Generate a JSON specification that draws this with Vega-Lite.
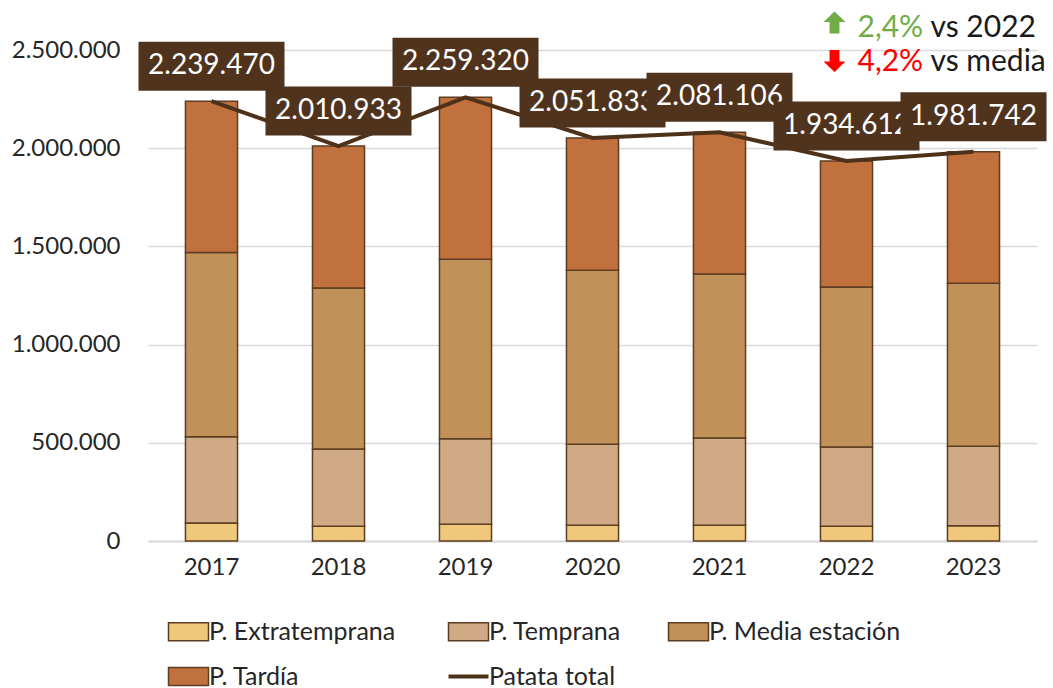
{
  "$schema": "https://vega.github.io/schema/vega-lite/v6.json",
  "width": 889,
  "height": 491,
  "autosize": {"type": "none"},
  "padding": {"left": 148, "top": 50, "right": 16, "bottom": 147},
  "background": "white",
  "config": {
    "locale": {"number": {"decimal": ",", "thousands": ".", "grouping": [3], "currency": ["", " €"]}},
    "font": "Lato",
    "view": {"stroke": null}
  },
  "datasets": {
    "parts": [
      {"year": "2017", "cat": "P. Extratemprana", "idx": 1, "value": 92000},
      {"year": "2017", "cat": "P. Temprana", "idx": 2, "value": 439000},
      {"year": "2017", "cat": "P. Media estación", "idx": 3, "value": 938000},
      {"year": "2017", "cat": "P. Tardía", "idx": 4, "value": 770470},
      {"year": "2018", "cat": "P. Extratemprana", "idx": 1, "value": 75000},
      {"year": "2018", "cat": "P. Temprana", "idx": 2, "value": 394000},
      {"year": "2018", "cat": "P. Media estación", "idx": 3, "value": 819000},
      {"year": "2018", "cat": "P. Tardía", "idx": 4, "value": 722933},
      {"year": "2019", "cat": "P. Extratemprana", "idx": 1, "value": 85000},
      {"year": "2019", "cat": "P. Temprana", "idx": 2, "value": 435000},
      {"year": "2019", "cat": "P. Media estación", "idx": 3, "value": 915000},
      {"year": "2019", "cat": "P. Tardía", "idx": 4, "value": 824320},
      {"year": "2020", "cat": "P. Extratemprana", "idx": 1, "value": 80000},
      {"year": "2020", "cat": "P. Temprana", "idx": 2, "value": 413000},
      {"year": "2020", "cat": "P. Media estación", "idx": 3, "value": 885000},
      {"year": "2020", "cat": "P. Tardía", "idx": 4, "value": 673833},
      {"year": "2021", "cat": "P. Extratemprana", "idx": 1, "value": 80000},
      {"year": "2021", "cat": "P. Temprana", "idx": 2, "value": 445000},
      {"year": "2021", "cat": "P. Media estación", "idx": 3, "value": 834000},
      {"year": "2021", "cat": "P. Tardía", "idx": 4, "value": 722106},
      {"year": "2022", "cat": "P. Extratemprana", "idx": 1, "value": 75000},
      {"year": "2022", "cat": "P. Temprana", "idx": 2, "value": 403000},
      {"year": "2022", "cat": "P. Media estación", "idx": 3, "value": 815000},
      {"year": "2022", "cat": "P. Tardía", "idx": 4, "value": 641612},
      {"year": "2023", "cat": "P. Extratemprana", "idx": 1, "value": 78000},
      {"year": "2023", "cat": "P. Temprana", "idx": 2, "value": 405000},
      {"year": "2023", "cat": "P. Media estación", "idx": 3, "value": 829000},
      {"year": "2023", "cat": "P. Tardía", "idx": 4, "value": 669742}
    ],
    "totals": [
      {"year": "2017", "total": 2239470},
      {"year": "2018", "total": 2010933},
      {"year": "2019", "total": 2259320},
      {"year": "2020", "total": 2051833},
      {"year": "2021", "total": 2081106},
      {"year": "2022", "total": 1934612},
      {"year": "2023", "total": 1981742}
    ],
    "notes": [
      {"row": "a", "ya": 2640000, "yt": 2612000, "pct": "2,4%", "rest": "vs 2022", "c": "#70AD47", "dir": "up"},
      {"row": "b", "ya": 2444000, "yt": 2440000, "pct": "4,2%", "rest": "vs media", "c": "#FF0000", "dir": "down"}
    ]
  },
  "encoding": {
    "x": {
      "field": "year", "type": "ordinal",
      "scale": {"paddingInner": 0.59, "paddingOuter": 0.295},
      "axis": {"title": null, "labelAngle": 0, "labelFontSize": 24, "labelColor": "#262626", "ticks": false, "domainColor": "#D9D9D9", "domainWidth": 2, "labelPadding": 14}
    }
  },
  "layer": [
    {
      "data": {"name": "parts"},
      "mark": {"type": "bar", "stroke": "#5C3D21", "strokeWidth": 1.5},
      "encoding": {
        "y": {
          "field": "value", "type": "quantitative", "stack": "zero",
          "scale": {"domain": [0, 2500000], "nice": false, "zero": true},
          "axis": {"title": null, "values": [0, 500000, 1000000, 1500000, 2000000, 2500000], "format": ",d", "grid": true, "gridColor": "#D9D9D9", "gridWidth": 1.5, "domain": false, "ticks": false, "labelFontSize": 24, "labelPadding": 28, "labelColor": "#262626"}
        },
        "color": {
          "field": "cat", "type": "nominal",
          "scale": {
            "domain": ["P. Extratemprana", "P. Temprana", "P. Media estación", "P. Tardía", "Patata total"],
            "range": ["#F0C87C", "#CFAA85", "#C0925A", "#C0713D", "#4E3119"]
          },
          "legend": {
            "title": null, "orient": "bottom", "columns": 3, "labelFontSize": 25, "labelColor": "#262626", "labelLimit": 400,
            "symbolSize": 1600, "symbolType": "M-1,-0.45H1V0.45H-1Z", "symbolStrokeWidth": 1.5, "symbolStrokeColor": "#5C3D21",
            "rowPadding": 19, "columnPadding": 44, "labelOffset": 8, "offset": 12, "padding": 28,
            "encode": {
              "symbols": {
                "update": {
                  "shape": {"signal": "datum.value === 'Patata total' ? 'stroke' : 'M-1,-0.45H1V0.45H-1Z'"},
                  "fill": {"signal": "datum.value === 'Patata total' ? 'transparent' : scale('color', datum.value)"},
                  "stroke": {"signal": "datum.value === 'Patata total' ? '#4E3119' : '#5C3D21'"},
                  "strokeWidth": {"signal": "datum.value === 'Patata total' ? 4 : 1.5"}
                }
              }
            }
          }
        },
        "order": {"field": "idx", "type": "quantitative"}
      }
    },
    {
      "data": {"name": "totals"},
      "mark": {"type": "line", "strokeWidth": 4, "color": "#4E3119"},
      "encoding": {
        "y": {"field": "total", "type": "quantitative", "scale": {"domain": [0, 2500000], "nice": false, "zero": true}}
      }
    },
    {"data": {"name": "totals"}, "transform": [{"filter": "datum.year == '2017'"}], "encoding": {"y": {"field": "total", "type": "quantitative"}}, "layer": [
      {"mark": {"type": "point", "shape": "M-1,-0.336H1V0.336H-1Z", "size": 21316, "filled": true, "color": "#4F331D", "opacity": 1, "strokeWidth": 0, "yOffset": -35}},
      {"mark": {"type": "text", "fontSize": 28, "color": "white", "baseline": "middle", "yOffset": -35}, "encoding": {"text": {"field": "total", "type": "quantitative", "format": ",d"}}}
    ]},
    {"data": {"name": "totals"}, "transform": [{"filter": "datum.year == '2018'"}], "encoding": {"y": {"field": "total", "type": "quantitative"}}, "layer": [
      {"mark": {"type": "point", "shape": "M-1,-0.336H1V0.336H-1Z", "size": 21316, "filled": true, "color": "#4F331D", "opacity": 1, "strokeWidth": 0, "yOffset": -35}},
      {"mark": {"type": "text", "fontSize": 28, "color": "white", "baseline": "middle", "yOffset": -35}, "encoding": {"text": {"field": "total", "type": "quantitative", "format": ",d"}}}
    ]},
    {"data": {"name": "totals"}, "transform": [{"filter": "datum.year == '2019'"}], "encoding": {"y": {"field": "total", "type": "quantitative"}}, "layer": [
      {"mark": {"type": "point", "shape": "M-1,-0.336H1V0.336H-1Z", "size": 21316, "filled": true, "color": "#4F331D", "opacity": 1, "strokeWidth": 0, "yOffset": -35}},
      {"mark": {"type": "text", "fontSize": 28, "color": "white", "baseline": "middle", "yOffset": -35}, "encoding": {"text": {"field": "total", "type": "quantitative", "format": ",d"}}}
    ]},
    {"data": {"name": "totals"}, "transform": [{"filter": "datum.year == '2020'"}], "encoding": {"y": {"field": "total", "type": "quantitative"}}, "layer": [
      {"mark": {"type": "point", "shape": "M-1,-0.336H1V0.336H-1Z", "size": 21316, "filled": true, "color": "#4F331D", "opacity": 1, "strokeWidth": 0, "yOffset": -35}},
      {"mark": {"type": "text", "fontSize": 28, "color": "white", "baseline": "middle", "yOffset": -35}, "encoding": {"text": {"field": "total", "type": "quantitative", "format": ",d"}}}
    ]},
    {"data": {"name": "totals"}, "transform": [{"filter": "datum.year == '2021'"}], "encoding": {"y": {"field": "total", "type": "quantitative"}}, "layer": [
      {"mark": {"type": "point", "shape": "M-1,-0.336H1V0.336H-1Z", "size": 21316, "filled": true, "color": "#4F331D", "opacity": 1, "strokeWidth": 0, "yOffset": -35}},
      {"mark": {"type": "text", "fontSize": 28, "color": "white", "baseline": "middle", "yOffset": -35}, "encoding": {"text": {"field": "total", "type": "quantitative", "format": ",d"}}}
    ]},
    {"data": {"name": "totals"}, "transform": [{"filter": "datum.year == '2022'"}], "encoding": {"y": {"field": "total", "type": "quantitative"}}, "layer": [
      {"mark": {"type": "point", "shape": "M-1,-0.336H1V0.336H-1Z", "size": 21316, "filled": true, "color": "#4F331D", "opacity": 1, "strokeWidth": 0, "yOffset": -35}},
      {"mark": {"type": "text", "fontSize": 28, "color": "white", "baseline": "middle", "yOffset": -35}, "encoding": {"text": {"field": "total", "type": "quantitative", "format": ",d"}}}
    ]},
    {"data": {"name": "totals"}, "transform": [{"filter": "datum.year == '2023'"}], "encoding": {"y": {"field": "total", "type": "quantitative"}}, "layer": [
      {"mark": {"type": "point", "shape": "M-1,-0.336H1V0.336H-1Z", "size": 21316, "filled": true, "color": "#4F331D", "opacity": 1, "strokeWidth": 0, "yOffset": -35}},
      {"mark": {"type": "text", "fontSize": 28, "color": "white", "baseline": "middle", "yOffset": -35}, "encoding": {"text": {"field": "total", "type": "quantitative", "format": ",d"}}}
    ]},
    {
      "data": {"name": "notes"},
      "transform": [{"filter": "datum.dir == 'up'"}],
      "mark": {"type": "point", "shape": "M0,-1L1,-0.05L0.45,-0.05L0.45,1L-0.45,1L-0.45,-0.05L-1,-0.05Z", "size": 484, "filled": true, "opacity": 1, "strokeWidth": 0, "color": "#70AD47", "xOffset": -12},
      "encoding": {"x": {"datum": "2022", "type": "ordinal"}, "y": {"field": "ya", "type": "quantitative", "scale": {"domain": [0, 2500000], "nice": false, "zero": true}}}
    },
    {
      "data": {"name": "notes"},
      "transform": [{"filter": "datum.dir == 'down'"}],
      "mark": {"type": "point", "shape": "M0,1L1,0.05L0.45,0.05L0.45,-1L-0.45,-1L-0.45,0.05L-1,0.05Z", "size": 484, "filled": true, "opacity": 1, "strokeWidth": 0, "color": "#FF0000", "xOffset": -12},
      "encoding": {"x": {"datum": "2022", "type": "ordinal"}, "y": {"field": "ya", "type": "quantitative", "scale": {"domain": [0, 2500000], "nice": false, "zero": true}}}
    },
    {
      "data": {"name": "notes"},
      "mark": {"type": "text", "fontSize": 30, "align": "left", "baseline": "middle", "xOffset": 11},
      "encoding": {
        "x": {"datum": "2022", "type": "ordinal"},
        "y": {"field": "yt", "type": "quantitative", "scale": {"domain": [0, 2500000], "nice": false, "zero": true}},
        "text": {"field": "pct"},
        "color": {"field": "c", "type": "nominal", "scale": null}
      }
    },
    {
      "data": {"name": "notes"},
      "mark": {"type": "text", "fontSize": 30, "align": "left", "baseline": "middle", "xOffset": -43, "color": "#1A1A1A"},
      "encoding": {
        "x": {"datum": "2023", "type": "ordinal"},
        "y": {"field": "yt", "type": "quantitative", "scale": {"domain": [0, 2500000], "nice": false, "zero": true}},
        "text": {"field": "rest"}
      }
    }
  ]
}
